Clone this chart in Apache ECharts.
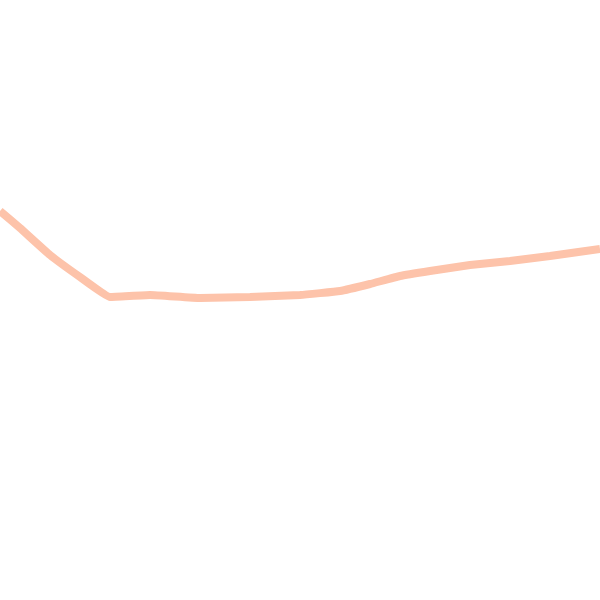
<!DOCTYPE html>
<html>
<head>
<meta charset="utf-8">
<script src="https://cdn.jsdelivr.net/npm/echarts@6/dist/echarts.min.js"></script>
<style>
  html, body { margin: 0; padding: 0; background: #ffffff; }
  #chart { width: 600px; height: 600px; }
</style>
</head>
<body>
<div id="chart"></div>
<script>
// x positions along the trace and the line's height
var xValues = [0, 20, 50, 80, 110, 150, 200, 250, 300, 340, 370, 400, 430, 470, 510, 550, 600];
var yValues = [389, 372, 345, 323, 303, 305, 302, 303, 305, 309, 316, 324, 329, 335, 339, 344, 351];

var points = [];
xValues.forEach(function (x, i) {
	points.push([x, yValues[i]]);
});

var myChart = echarts.init(document.getElementById('chart'));
myChart.setOption({
	animation: false,
	backgroundColor: '#ffffff',
	grid: { left: 0, right: 0, top: 0, bottom: 0, containLabel: false },
	xAxis: { type: 'value', min: 0, max: 600, show: false },
	yAxis: { type: 'value', min: 0, max: 600, show: false },
	series: [
		{
			type: 'line',
			data: points,
			showSymbol: false,
			smooth: 0.1,
			lineStyle: { color: '#fdc3aa', width: 8 },
		},
	],
});
</script>
</body>
</html>
